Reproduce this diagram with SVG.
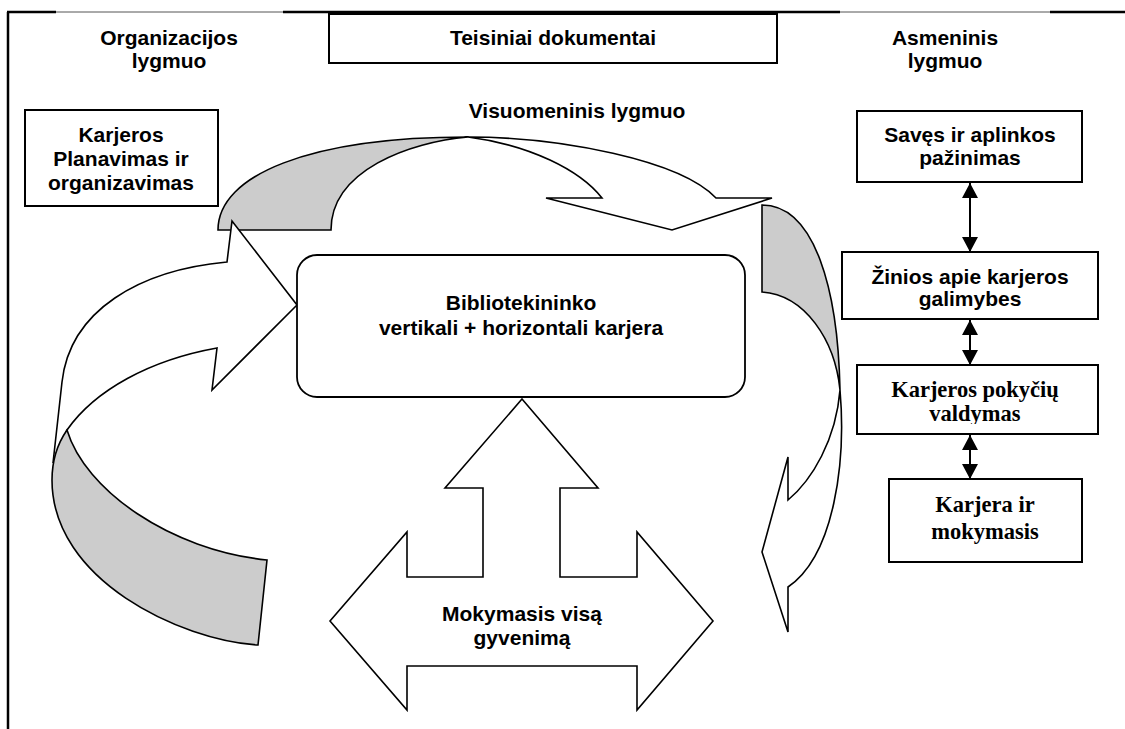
<svg xmlns="http://www.w3.org/2000/svg" width="1125" height="729" viewBox="0 0 1125 729">
<style>
.sans{font-family:"Liberation Sans",Arial,sans-serif;font-weight:bold;font-size:21px;fill:#000;text-anchor:middle}
.serif{font-family:"Liberation Serif","Times New Roman",serif;font-weight:bold;font-size:22.5px;fill:#000;text-anchor:middle}
.box{fill:#fff;stroke:#000;stroke-width:2}
.band{stroke:#000;stroke-width:1.6;stroke-linejoin:miter}
.white{fill:#fff}
.gray{fill:#cccccc}
.dbl{stroke:#000;stroke-width:2;marker-start:url(#ah);marker-end:url(#ah)}
</style>
<defs>
<marker id="ah" viewBox="0 0 15 16" refX="15" refY="8" markerWidth="15" markerHeight="16" markerUnits="userSpaceOnUse" orient="auto-start-reverse">
<path d="M0,0 L15,8 L0,16 Z" fill="#000"/>
</marker>
<clipPath id="clip3"><rect x="857" y="365" width="241" height="59"/></clipPath>
</defs>
<rect width="1125" height="729" fill="#fff"/>

<g id="frame" fill="none">
<line x1="8" y1="12" x2="8" y2="729" stroke="#000" stroke-width="2.5"/>
<line x1="7" y1="12" x2="56" y2="12" stroke="#000" stroke-width="2.5"/>
<line x1="56" y1="12" x2="283" y2="12" stroke="#555" stroke-width="1"/>
<line x1="283" y1="12" x2="840" y2="12" stroke="#000" stroke-width="2.5"/>
<line x1="840" y1="12" x2="1050" y2="12" stroke="#555" stroke-width="1"/>
<line x1="1050" y1="12" x2="1125" y2="12" stroke="#000" stroke-width="2.5"/>
</g>

<g id="connectors">
<g id="arrow-top">
<path class="band white" d="M468,137 C560,137 680,160 716,198 L772,198 L672,230 L546,198 L602,198 C580,170 530,145 468,137 Z"/>
<path class="band gray" d="M218,230 C218,175 310,137 468,137 C410,142 331,170 331,230 Z"/>
</g>
<g id="arrow-left">
<path class="band white" d="M53,463 L62,382 C70,310 140,270 227,262 L232,221 L297,305 L212,390 L217,348 C150,360 95,390 67,430 Z"/>
<path class="band gray" d="M67,430 C85,490 170,550 267,560 L258,645 C180,640 52,580 52,480 C52,460 58,443 67,430 Z"/>
</g>
<g id="arrow-right">
<path class="band gray" d="M762,205 C815,205 838,290 840,390 C835,340 805,295 762,292 Z"/>
<path class="band white" d="M840,390 C846,460 835,555 788,587 L788,632 L762,552 L788,457 L788,500 C812,480 836,440 840,390 Z"/>
</g>
<g id="arrow-bottom">
<path class="band white" d="M522,399 L598,488 L560,488 L560,577 L637,577 L637,532 L713,621 L637,710 L637,666 L407,666 L407,710 L330,621 L407,532 L407,577 L483,577 L483,488 L445,488 Z"/>
</g>
<line class="dbl" x1="970" y1="183" x2="970" y2="252"/>
<line class="dbl" x1="970" y1="320" x2="970" y2="365"/>
<line class="dbl" x1="970" y1="435" x2="970" y2="479"/>
</g>

<g id="teisiniai">
<rect class="box" x="329" y="14" width="448" height="49"/>
<text class="sans" x="553" y="45">Teisiniai dokumentai</text>
</g>
<g id="org-lygmuo">
<text class="sans" x="169" y="45">Organizacijos</text>
<text class="sans" x="169" y="68">lygmuo</text>
</g>
<g id="asm-lygmuo">
<text class="sans" x="945" y="45">Asmeninis</text>
<text class="sans" x="945" y="68">lygmuo</text>
</g>
<g id="visuomeninis">
<text class="sans" x="577" y="118">Visuomeninis lygmuo</text>
</g>
<g id="karjeros-planavimas">
<rect class="box" x="25" y="110" width="193" height="96"/>
<text class="sans" x="121" y="142">Karjeros</text>
<text class="sans" x="121" y="166">Planavimas ir</text>
<text class="sans" x="121" y="190">organizavimas</text>
</g>
<g id="bibliotekininko">
<rect x="297" y="255" width="448" height="142" rx="20" ry="20" fill="#fff" stroke="#000" stroke-width="1.8"/>
<text class="sans" x="521" y="310">Bibliotekininko</text>
<text class="sans" x="521" y="335">vertikali + horizontali karjera</text>
</g>
<g id="mokymasis-visa">
<text class="sans" x="522" y="621">Mokymasis visą</text>
<text class="sans" x="522" y="645">gyvenimą</text>
</g>
<g id="saves">
<rect class="box" x="857" y="111" width="225" height="71"/>
<text class="sans" x="970" y="142">Savęs ir aplinkos</text>
<text class="sans" x="970" y="165">pažinimas</text>
</g>
<g id="zinios">
<rect class="box" x="842" y="252" width="256" height="67"/>
<text class="sans" x="970" y="284">Žinios apie karjeros</text>
<text class="sans" x="970" y="306">galimybes</text>
</g>
<g id="pokyciai">
<rect class="box" x="857" y="365" width="241" height="69"/>
<g clip-path="url(#clip3)">
<text class="serif" x="975" y="397">Karjeros pokyčių</text>
<text class="serif" x="975" y="421">valdymas</text>
</g>
</g>
<g id="karjera-mokymasis">
<rect class="box" x="889" y="479" width="193" height="83"/>
<text class="serif" x="985" y="512">Karjera ir</text>
<text class="serif" x="985" y="539">mokymasis</text>
</g>
</svg>
